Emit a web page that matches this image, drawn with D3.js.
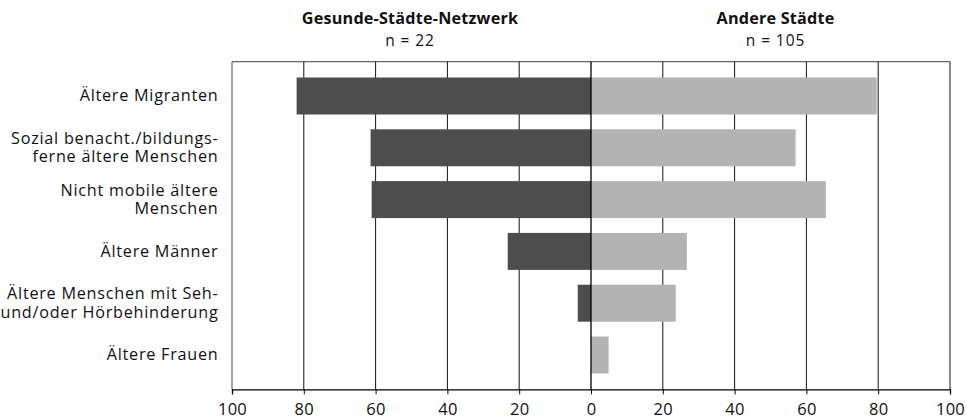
<!DOCTYPE html>
<html><head><meta charset="utf-8">
<script src="https://cdn.jsdelivr.net/npm/d3@7"></script>
<style>body{margin:0;background:#fff}svg{display:block;font-family:"Open Sans",sans-serif}</style>
</head><body><svg id="c" width="966" height="419"></svg>
<script>
const categories = [
  ["Ältere Migranten"],
  ["Sozial benacht./bildungs-", "ferne ältere Menschen"],
  ["Nicht mobile ältere", "Menschen"],
  ["Ältere Männer"],
  ["Ältere Menschen mit Seh-", "und/oder Hörbehinderung"],
  ["Ältere Frauen"]
];
const gesundeStaedte = [82, 61.4, 61.1, 23.2, 3.7, 0];
const andereStaedte = [79.6, 57, 65.4, 26.7, 23.6, 4.9];
const tickValues = [-100, -80, -60, -40, -20, 0, 20, 40, 60, 80, 100];
const seriesTitles = ["Gesunde-Städte-Netzwerk", "Andere Städte"];
const seriesN = ["n = 22", "n = 105"];

const svg = d3.select("#c");
const pL = 232, pR = 950, pT = 61.7, pB = 389.3;
const x = d3.scaleLinear().domain([-100, 100]).range([pL, pR]);
const y = d3.scaleBand().domain(d3.range(categories.length)).range([pT, pB])
  .paddingInner(0.286).paddingOuter(0.305);

// frame
svg.append("line").attr("x1", pL).attr("x2", pR).attr("y1", pT).attr("y2", pT)
  .attr("stroke", "#666").attr("stroke-width", 1.2);
svg.append("line").attr("x1", pL).attr("x2", pL).attr("y1", pT).attr("y2", pB)
  .attr("stroke", "#666").attr("stroke-width", 1.2);

// grid
svg.append("g").selectAll("line").data(tickValues.filter(d => d !== 0 && d !== -100))
  .join("line").attr("x1", d => x(d)).attr("x2", d => x(d))
  .attr("y1", pT).attr("y2", pB).attr("stroke", "#111").attr("stroke-width", 1);

// bars
svg.append("g").selectAll("rect").data(gesundeStaedte).join("rect")
  .attr("x", d => x(-d)).attr("width", d => x(0) - x(-d))
  .attr("y", (d, i) => y(i)).attr("height", y.bandwidth()).attr("fill", "#4d4d4d");
svg.append("g").selectAll("rect").data(andereStaedte).join("rect")
  .attr("x", x(0)).attr("width", d => x(d) - x(0))
  .attr("y", (d, i) => y(i)).attr("height", y.bandwidth()).attr("fill", "#b3b3b3");

// zero line
svg.append("line").attr("x1", x(0)).attr("x2", x(0)).attr("y1", pT).attr("y2", pB)
  .attr("stroke", "#000").attr("stroke-width", 1.3);

// x axis
const axis = d3.axisBottom(x).tickValues(tickValues).tickSize(5).tickPadding(3).tickFormat(d => Math.abs(d));
const ag = svg.append("g").attr("transform", `translate(0,${pB})`).call(axis);
ag.select(".domain").attr("stroke", "#000").attr("stroke-width", 1.3);
ag.selectAll(".tick line").attr("stroke", "#000");
ag.selectAll(".tick text").attr("font-size", 16.5).attr("fill", "#111")
  .attr("font-family", "Open Sans, sans-serif").attr("letter-spacing", 0.3).attr("dy", "1.1em");

// category labels
const lab = svg.append("g");
const lh = 18.3;
categories.forEach((lines, i) => {
  const cy = y(i) + y.bandwidth() / 2;
  const t = lab.append("text").attr("text-anchor", "end").attr("font-size", 16.2)
    .attr("letter-spacing", 0.75).attr("fill", "#111");
  lines.forEach((s, j) => {
    t.append("tspan").attr("x", 218.5)
      .attr("y", cy + (j - (lines.length - 1) / 2) * lh + 5.2).text(s);
  });
});

// series titles
[[-100, 0], [0, 100]].forEach((dom, i) => {
  const cx = (x(dom[0]) + x(dom[1])) / 2 + (i === 0 ? -1.5 : 5);
  svg.append("text").attr("x", cx).attr("y", 24).attr("text-anchor", "middle")
    .attr("font-size", 16.2).attr("font-weight", "bold").attr("letter-spacing", 0.2)
    .attr("fill", "#111").text(seriesTitles[i]);
  svg.append("text").attr("x", cx).attr("y", 45.7).attr("text-anchor", "middle")
    .attr("font-size", 15.5).attr("letter-spacing", 0.9).attr("fill", "#111").text(seriesN[i]);
});
</script></body></html>
